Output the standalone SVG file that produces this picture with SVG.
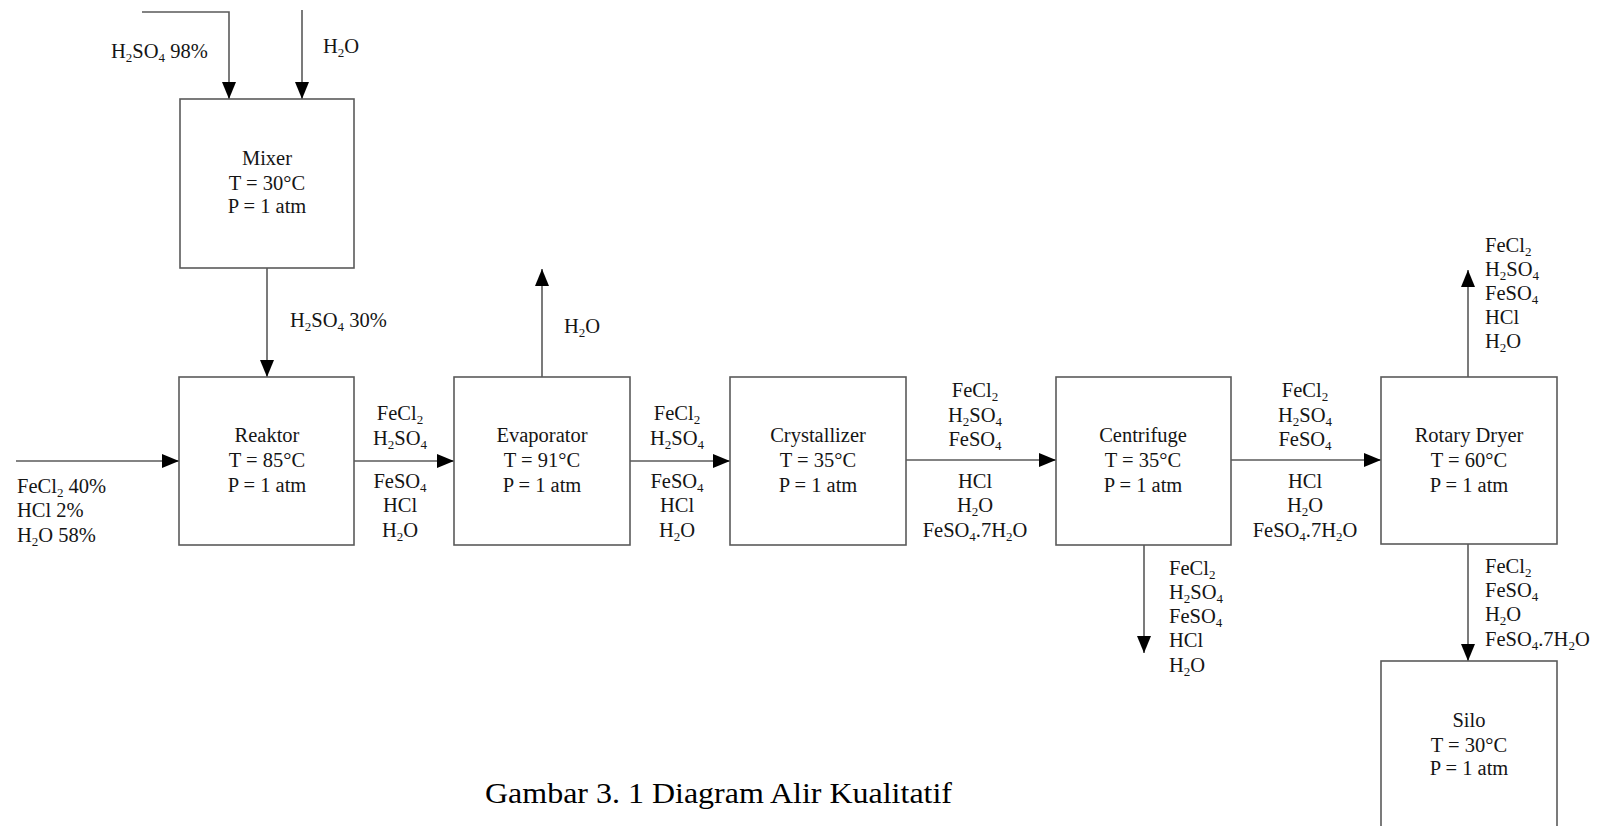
<svg xmlns="http://www.w3.org/2000/svg" width="1607" height="826" viewBox="0 0 1607 826">
<style>
  text { font-family: "Liberation Serif", "Times New Roman", serif; font-size: 20.5px; fill: #151515; }
  .m { text-anchor: middle; }
  .s { font-size: 13px; }
  .box { fill: #ffffff; stroke: #5a5a5a; stroke-width: 1.6; }
  .ln { fill: none; stroke: #5a5a5a; stroke-width: 1.6; marker-end: url(#arr); }
  .cap { font-size: 29px; fill: #000; }
</style>
<defs>
  <marker id="arr" markerUnits="userSpaceOnUse" markerWidth="17" markerHeight="14" refX="17" refY="7" orient="auto">
    <path d="M0,0 L17,7 L0,14 Z" fill="#000"/>
  </marker>
</defs>
<rect width="1607" height="826" fill="#ffffff"/>

<g id="connectors">
  <path class="ln" d="M142,12 H229 V99"/>
  <path class="ln" d="M302,10 V99"/>
  <path class="ln" d="M267,268 V377"/>
  <path class="ln" d="M16,461 H179"/>
  <path class="ln" d="M354,461 H454"/>
  <path class="ln" d="M542,377 V269"/>
  <path class="ln" d="M630,461 H730"/>
  <path class="ln" d="M906,460 H1056"/>
  <path class="ln" d="M1231,460 H1381"/>
  <path class="ln" d="M1144,545 V653"/>
  <path class="ln" d="M1468,377 V270"/>
  <path class="ln" d="M1468,544 V661"/>
</g>

<g id="mixer">
  <rect class="box" x="180" y="99" width="174" height="169"/>
  <text class="m" x="267" y="165">Mixer</text>
  <text class="m" x="267" y="190">T = 30°C</text>
  <text class="m" x="267" y="213">P = 1 atm</text>
</g>

<g id="reaktor">
  <rect class="box" x="179" y="377" width="175" height="168"/>
  <text class="m" x="267" y="442">Reaktor</text>
  <text class="m" x="267" y="467">T = 85°C</text>
  <text class="m" x="267" y="492">P = 1 atm</text>
</g>

<g id="evaporator">
  <rect class="box" x="454" y="377" width="176" height="168"/>
  <text class="m" x="542" y="442">Evaporator</text>
  <text class="m" x="542" y="467">T = 91°C</text>
  <text class="m" x="542" y="492">P = 1 atm</text>
</g>

<g id="crystallizer">
  <rect class="box" x="730" y="377" width="176" height="168"/>
  <text class="m" x="818" y="442">Crystallizer</text>
  <text class="m" x="818" y="467">T = 35°C</text>
  <text class="m" x="818" y="492">P = 1 atm</text>
</g>

<g id="centrifuge">
  <rect class="box" x="1056" y="377" width="175" height="168"/>
  <text class="m" x="1143" y="442">Centrifuge</text>
  <text class="m" x="1143" y="467">T = 35°C</text>
  <text class="m" x="1143" y="492">P = 1 atm</text>
</g>

<g id="rotary-dryer">
  <rect class="box" x="1381" y="377" width="176" height="167"/>
  <text class="m" x="1469" y="442">Rotary Dryer</text>
  <text class="m" x="1469" y="467">T = 60°C</text>
  <text class="m" x="1469" y="492">P = 1 atm</text>
</g>

<g id="silo">
  <rect class="box" x="1381" y="661" width="176" height="190"/>
  <text class="m" x="1469" y="727">Silo</text>
  <text class="m" x="1469" y="752">T = 30°C</text>
  <text class="m" x="1469" y="775">P = 1 atm</text>
</g>

<g id="labels">
  <text x="111" y="58">H<tspan class="s" dy="4">2</tspan><tspan dy="-4">SO</tspan><tspan class="s" dy="4">4</tspan><tspan dy="-4"> 98%</tspan></text>
  <text x="323" y="53">H<tspan class="s" dy="4">2</tspan><tspan dy="-4">O</tspan></text>
  <text x="290" y="327">H<tspan class="s" dy="4">2</tspan><tspan dy="-4">SO</tspan><tspan class="s" dy="4">4</tspan><tspan dy="-4"> 30%</tspan></text>

  <text x="17" y="493">FeCl<tspan class="s" dy="4">2</tspan><tspan dy="-4"> 40%</tspan></text>
  <text x="17" y="517">HCl 2%</text>
  <text x="17" y="542">H<tspan class="s" dy="4">2</tspan><tspan dy="-4">O 58%</tspan></text>

  <text class="m" x="400" y="420">FeCl<tspan class="s" dy="4">2</tspan></text>
  <text class="m" x="400" y="445">H<tspan class="s" dy="4">2</tspan><tspan dy="-4">SO</tspan><tspan class="s" dy="4">4</tspan></text>
  <text class="m" x="400" y="488">FeSO<tspan class="s" dy="4">4</tspan></text>
  <text class="m" x="400" y="512">HCl</text>
  <text class="m" x="400" y="537">H<tspan class="s" dy="4">2</tspan><tspan dy="-4">O</tspan></text>

  <text x="564" y="333">H<tspan class="s" dy="4">2</tspan><tspan dy="-4">O</tspan></text>

  <text class="m" x="677" y="420">FeCl<tspan class="s" dy="4">2</tspan></text>
  <text class="m" x="677" y="445">H<tspan class="s" dy="4">2</tspan><tspan dy="-4">SO</tspan><tspan class="s" dy="4">4</tspan></text>
  <text class="m" x="677" y="488">FeSO<tspan class="s" dy="4">4</tspan></text>
  <text class="m" x="677" y="512">HCl</text>
  <text class="m" x="677" y="537">H<tspan class="s" dy="4">2</tspan><tspan dy="-4">O</tspan></text>

  <text class="m" x="975" y="397">FeCl<tspan class="s" dy="4">2</tspan></text>
  <text class="m" x="975" y="422">H<tspan class="s" dy="4">2</tspan><tspan dy="-4">SO</tspan><tspan class="s" dy="4">4</tspan></text>
  <text class="m" x="975" y="446">FeSO<tspan class="s" dy="4">4</tspan></text>
  <text class="m" x="975" y="488">HCl</text>
  <text class="m" x="975" y="512">H<tspan class="s" dy="4">2</tspan><tspan dy="-4">O</tspan></text>
  <text class="m" x="975" y="537">FeSO<tspan class="s" dy="4">4</tspan><tspan dy="-4">.7H</tspan><tspan class="s" dy="4">2</tspan><tspan dy="-4">O</tspan></text>

  <text class="m" x="1305" y="397">FeCl<tspan class="s" dy="4">2</tspan></text>
  <text class="m" x="1305" y="422">H<tspan class="s" dy="4">2</tspan><tspan dy="-4">SO</tspan><tspan class="s" dy="4">4</tspan></text>
  <text class="m" x="1305" y="446">FeSO<tspan class="s" dy="4">4</tspan></text>
  <text class="m" x="1305" y="488">HCl</text>
  <text class="m" x="1305" y="512">H<tspan class="s" dy="4">2</tspan><tspan dy="-4">O</tspan></text>
  <text class="m" x="1305" y="537">FeSO<tspan class="s" dy="4">4</tspan><tspan dy="-4">.7H</tspan><tspan class="s" dy="4">2</tspan><tspan dy="-4">O</tspan></text>

  <text x="1169" y="575">FeCl<tspan class="s" dy="4">2</tspan></text>
  <text x="1169" y="599">H<tspan class="s" dy="4">2</tspan><tspan dy="-4">SO</tspan><tspan class="s" dy="4">4</tspan></text>
  <text x="1169" y="623">FeSO<tspan class="s" dy="4">4</tspan></text>
  <text x="1169" y="647">HCl</text>
  <text x="1169" y="672">H<tspan class="s" dy="4">2</tspan><tspan dy="-4">O</tspan></text>

  <text x="1485" y="252">FeCl<tspan class="s" dy="4">2</tspan></text>
  <text x="1485" y="276">H<tspan class="s" dy="4">2</tspan><tspan dy="-4">SO</tspan><tspan class="s" dy="4">4</tspan></text>
  <text x="1485" y="300">FeSO<tspan class="s" dy="4">4</tspan></text>
  <text x="1485" y="324">HCl</text>
  <text x="1485" y="348">H<tspan class="s" dy="4">2</tspan><tspan dy="-4">O</tspan></text>

  <text x="1485" y="573">FeCl<tspan class="s" dy="4">2</tspan></text>
  <text x="1485" y="597">FeSO<tspan class="s" dy="4">4</tspan></text>
  <text x="1485" y="621">H<tspan class="s" dy="4">2</tspan><tspan dy="-4">O</tspan></text>
  <text x="1485" y="646">FeSO<tspan class="s" dy="4">4</tspan><tspan dy="-4">.7H</tspan><tspan class="s" dy="4">2</tspan><tspan dy="-4">O</tspan></text>
</g>

<text class="cap" x="485" y="803" textLength="467" lengthAdjust="spacingAndGlyphs">Gambar 3. 1 Diagram Alir Kualitatif</text>
</svg>
